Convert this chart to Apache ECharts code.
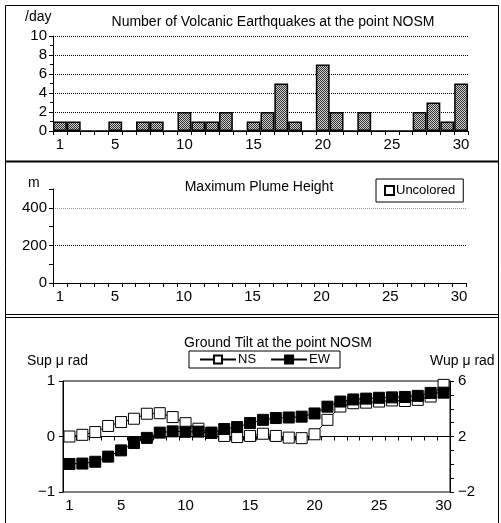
<!DOCTYPE html>
<html>
<head>
<meta charset="utf-8">
<script src="https://cdn.jsdelivr.net/npm/echarts@6/dist/echarts.min.js"></script>
<style>
  html, body { margin: 0; padding: 0; background: #fff; }
  #chart { width: 501px; height: 523px; }
</style>
</head>
<body>
<div id="chart"></div>
<script>
// days of the month (category axis)
var days = ['1','2','3','4','5','6','7','8','9','10','11','12','13','14','15',
            '16','17','18','19','20','21','22','23','24','25','26','27','28','29','30'];

// volcanic earthquakes per day
var quakes = [1,1,0,0,1,0,1,1,0,2,1,1,2,0,1,2,5,1,0,7,2,0,2,0,0,0,2,3,1,5];

// maximum plume height (no observations)
var plume = [null,null,null,null,null,null,null,null,null,null,null,null,null,null,null,
             null,null,null,null,null,null,null,null,null,null,null,null,null,null,null];

// ground tilt, NS on left axis, EW on right axis
var tiltNS = [0.00,0.03,0.08,0.19,0.26,0.32,0.41,0.42,0.35,0.24,0.14,0.07,0.01,-0.01,0.01,
              0.05,0.01,-0.02,-0.03,0.04,0.30,0.54,0.60,0.61,0.63,0.65,0.64,0.66,0.72,0.93];
var tiltEW = [0.02,0.05,0.18,0.55,1.00,1.53,1.90,2.28,2.37,2.34,2.35,2.26,2.54,2.68,2.97,
              3.20,3.33,3.37,3.43,3.66,4.15,4.52,4.67,4.73,4.79,4.82,4.85,4.93,5.14,5.16];

var FONT = 'Liberation Sans';

// 網掛け模様（棒グラフ用）
function makePattern() {
  var c = document.createElement('canvas');
  c.width = 2; c.height = 2;
  var ctx = c.getContext('2d');
  ctx.fillStyle = '#cfcfcf';
  ctx.fillRect(0, 0, 2, 2);
  ctx.fillStyle = '#333';
  ctx.fillRect(0, 0, 1, 1);
  ctx.fillRect(1, 1, 1, 1);
  return c;
}

function dayLabel(i) {
  return i === 0 || (i + 1) % 5 === 0;
}

function xAxisFor(gridIndex) {
  return {
    type: 'category',
    gridIndex: gridIndex,
    data: days,
    boundaryGap: true,
    axisLine: { lineStyle: { color: '#000', width: 1 } },
    axisTick: { show: true, interval: 0, length: 4, lineStyle: { color: '#000' } },
    axisLabel: { interval: dayLabel, color: '#000', fontSize: 15, fontFamily: FONT, margin: 6 },
    splitLine: { show: false }
  };
}

var chart = echarts.init(document.getElementById('chart'), null, { renderer: 'canvas' });

var titleStyle = { fontSize: 14, fontWeight: 'normal', color: '#000', fontFamily: FONT };

var option = {
  animation: false,
  backgroundColor: '#fff',
  textStyle: { fontFamily: FONT },
  title: [
    { text: 'Number of Volcanic Earthquakes at the point NOSM', left: 268, top: 10, textAlign: 'center',
      textStyle: titleStyle },
    { text: 'Maximum Plume Height', left: 254, top: 175, textAlign: 'center', textStyle: titleStyle },
    { text: 'Ground Tilt at the point NOSM', left: 273, top: 331, textAlign: 'center', textStyle: titleStyle }
  ],
  legend: [
    {
      data: ['Uncolored'],
      left: 376, top: 179, width: 90,
      padding: [5, 8, 5, 8],
      borderColor: '#000', borderWidth: 1,
      itemWidth: 9, itemHeight: 9,
      icon: 'rect',
      textStyle: { fontSize: 13, color: '#000', fontFamily: FONT, padding: [0, 0, 0, -3] }
    },
    {
      data: ['NS', 'EW'],
      left: 189, top: 351,
      padding: [2, 10, 2, 10],
      borderColor: '#000', borderWidth: 1,
      itemWidth: 36, itemHeight: 10, itemGap: 14,
      textStyle: { fontSize: 13, color: '#000', fontFamily: FONT, padding: [0, 0, 0, -3] }
    }
  ],
  grid: [
    { left: 53, top: 36, width: 415, height: 95 },
    { left: 53, top: 189, width: 413, height: 94 },
    { left: 63, top: 381, width: 387, height: 111, show: true, borderColor: '#000', borderWidth: 1 }
  ],
  xAxis: [xAxisFor(0), xAxisFor(1), xAxisFor(2)],
  yAxis: [
    {
      type: 'value', gridIndex: 0, min: 0, max: 10, interval: 2,
      axisLine: { show: true, lineStyle: { color: '#000' } },
      axisTick: { show: true, length: 4, lineStyle: { color: '#000' } },
      minorTick: { show: true, splitNumber: 2, length: 3, lineStyle: { color: '#000' } },
      axisLabel: { color: '#000', fontSize: 15, fontFamily: FONT, margin: 6 },
      splitLine: { show: true, lineStyle: { color: '#000', type: [1, 1], width: 1 } }
    },
    {
      type: 'value', gridIndex: 1, min: 0, max: 500, interval: 100,
      axisLine: { show: true, lineStyle: { color: '#000' } },
      axisTick: { show: true, length: 4, lineStyle: { color: '#000' } },
      axisLabel: {
        color: '#000', fontSize: 15, fontFamily: FONT, margin: 6,
        formatter: function (v) { return v % 200 === 0 ? String(v) : ''; }
      },
      splitLine: {
        show: true,
        lineStyle: { color: ['transparent', 'transparent', '#000', 'transparent', '#999', 'transparent'],
                     type: [1, 1], width: 1 }
      }
    },
    {
      type: 'value', gridIndex: 2, min: -1, max: 1, interval: 1,
      axisLine: { show: true, lineStyle: { color: '#000' } },
      axisTick: { show: true, length: 4, lineStyle: { color: '#000' } },
      axisLabel: { color: '#000', fontSize: 15, fontFamily: FONT, margin: 8,
                   formatter: function (v) { return v < 0 ? '\u2212' + Math.abs(v) : String(v); } },
      splitLine: { show: true, lineStyle: { color: ['transparent', '#999', 'transparent'], type: [1, 1] } }
    },
    {
      type: 'value', gridIndex: 2, position: 'right', min: -2, max: 6, interval: 1,
      axisLine: { show: true, lineStyle: { color: '#000' } },
      axisTick: { show: true, length: 4, lineStyle: { color: '#000' } },
      axisLabel: {
        color: '#000', fontSize: 15, fontFamily: FONT, margin: 8,
        formatter: function (v) {
          if (v === 6 || v === 2) return String(v);
          if (v === -2) return '\u22122';
          return '';
        }
      },
      splitLine: { show: false }
    }
  ],
  series: [
    {
      name: 'quakes', type: 'bar', xAxisIndex: 0, yAxisIndex: 0,
      data: quakes,
      barCategoryGap: '0%',
      itemStyle: { color: { image: makePattern(), repeat: 'repeat' }, borderColor: '#000', borderWidth: 1.5 }
    },
    {
      name: 'Uncolored', type: 'bar', xAxisIndex: 1, yAxisIndex: 1,
      data: plume,
      itemStyle: { color: '#fff', borderColor: '#000', borderWidth: 2 }
    },
    {
      name: 'NS', type: 'line', xAxisIndex: 2, yAxisIndex: 2,
      data: tiltNS,
      symbol: 'rect', symbolSize: 11, showAllSymbol: true,
      lineStyle: { color: '#000', width: 1 },
      itemStyle: { color: '#fff', borderColor: '#000', borderWidth: 1 }
    },
    {
      name: 'EW', type: 'line', xAxisIndex: 2, yAxisIndex: 3,
      data: tiltEW,
      symbol: 'rect', symbolSize: 11, showAllSymbol: true,
      lineStyle: { color: '#000', width: 1 },
      itemStyle: { color: '#000', borderColor: '#000', borderWidth: 1 }
    }
  ],
  graphic: [
    // 枠線
    { type: 'rect', silent: true, shape: { x: 5.5, y: 5.5, width: 493, height: 530 },
      style: { fill: 'none', stroke: '#000', lineWidth: 1 } },
    { type: 'line', silent: true, shape: { x1: 5, y1: 161.5, x2: 499, y2: 161.5 },
      style: { stroke: '#000', lineWidth: 2 } },
    { type: 'line', silent: true, shape: { x1: 5, y1: 314.5, x2: 499, y2: 314.5 },
      style: { stroke: '#000', lineWidth: 1 } },
    { type: 'line', silent: true, shape: { x1: 5, y1: 317.5, x2: 499, y2: 317.5 },
      style: { stroke: '#000', lineWidth: 1 } },
    // 単位
    { type: 'text', left: 25, top: 10, style: { text: '/day', font: '14px ' + FONT, fill: '#000' } },
    { type: 'text', left: 28, top: 176, style: { text: 'm', font: '14px ' + FONT, fill: '#000' } },
    { type: 'text', left: 27, top: 354, style: { text: 'Sup \u03bc rad', font: '14px ' + FONT, fill: '#000' } },
    { type: 'text', left: 430, top: 354, style: { text: 'Wup \u03bc rad', font: '14px ' + FONT, fill: '#000' } }
  ]
};

chart.setOption(option);
</script>
</body>
</html>
